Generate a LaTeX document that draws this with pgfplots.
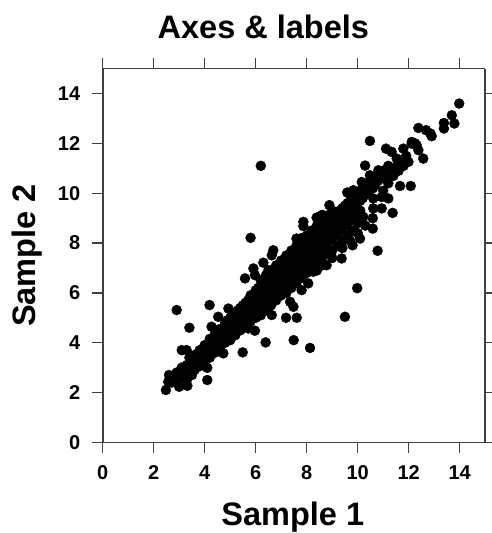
\documentclass[border=0pt]{standalone}
\usepackage{pgfplots}
\usepackage{fontspec}
\setmainfont{Liberation Sans}
\pgfplotsset{compat=1.18}

\begin{document}
\begin{tikzpicture}[x=1pt,y=1pt]
\useasboundingbox (0,0) rectangle (491,533);
\begin{axis}[
	at={(102.7pt,90.7pt)}, anchor=south west,
	scale only axis, width=382.5pt, height=373.6pt,
	xmin=0, xmax=15, ymin=0, ymax=15,
	xtick={0,2,...,14}, ytick={0,2,...,14},
	tick align=outside, major tick length=11pt,
	tick style={black!75, line width=1.3pt},
	separate axis lines,
	x axis line style={black!75, line width=1.3pt},
	y axis line style={black!75, line width=1.9pt},
	xticklabel pos=bottom, yticklabel pos=left,
	/pgf/number format/assume math mode=true,
	ticklabel style={font=\fontsize{20}{20}\selectfont\bfseries},
	xticklabel style={yshift=-9pt},
	yticklabel style={xshift=-8pt},
	title={Axes \& labels},
	every axis title/.style={at={(axis description cs:0.42,1.08)}, anchor=base, font=\fontsize{32.5}{32.5}\selectfont\bfseries},
	xlabel={Sample 1},
	every axis x label/.style={at={(axis description cs:0.497,-0.224)}, anchor=base, font=\fontsize{32.5}{32.5}\selectfont\bfseries},
	ylabel={Sample 2},
	every axis y label/.style={at={(axis description cs:-0.175,0.5)}, rotate=90, anchor=base, font=\fontsize{32.5}{32.5}\selectfont\bfseries},
]
\addplot[only marks, mark=*, mark size=5pt, mark options={fill=black, draw=none}] coordinates {
	% outliers and edges
	(2.48,2.10)(2.57,2.43)(3.00,2.23)(3.32,2.27)(4.10,2.50)(4.10,2.99)(2.90,5.31)(4.19,5.51)
	(3.40,4.60)(3.10,3.70)(3.29,3.70)(5.49,3.61)(6.39,4.01)(5.97,4.48)(5.71,4.57)(4.73,3.57)
	(4.27,4.64)(4.53,5.04)(4.93,5.37)(7.49,4.10)(8.13,3.79)(7.19,5.00)(7.61,5.00)(9.50,5.04)
	(9.98,6.19)(6.63,5.11)(7.48,5.44)(7.35,5.64)(7.80,6.11)(8.06,6.38)(8.26,6.85)
	(5.80,8.21)(7.87,8.85)(7.87,8.68)(8.42,9.02)(8.59,9.12)(6.69,7.71)(6.63,7.51)(6.30,7.21)
	(5.91,6.98)(5.97,6.71)(5.58,6.58)(6.50,6.91)(7.60,8.18)(8.78,7.11)(9.37,7.38)
	(6.20,11.10)(10.48,12.10)(10.29,11.11)(12.08,10.29)(11.66,10.29)(11.37,9.21)(10.78,7.69)
	(10.59,8.58)(10.59,9.00)(10.94,9.39)(10.61,9.39)(11.20,9.79)(9.59,10.03)(8.89,9.52)
	(8.39,9.02)(8.63,9.12)(11.11,11.79)(11.33,11.66)(11.79,11.79)(12.12,11.99)(12.31,11.93)
	(11.99,11.26)(11.60,11.19)(10.09,8.18)(9.80,7.91)(9.83,10.12)(10.16,10.45)(10.48,10.72)
	(10.81,10.92)(10.22,9.05)(9.83,8.98)(10.09,8.85)(10.68,10.32)(10.94,9.85)(10.61,9.79)
	(12.12,12.06)(12.25,12.00)(12.38,11.73)(12.57,11.39)(11.92,11.26)(11.53,11.39)
	(12.38,12.62)(12.68,12.53)(12.90,12.29)(12.85,12.40)(13.38,12.82)(13.38,12.60)
	(13.79,12.80)(13.69,13.13)(13.98,13.60)
	% main band
	(2.7,2.4)(2.7,2.6)(2.9,2.5)(2.9,2.8)(3.1,2.6)(3.1,3.0)(3.3,2.7)(3.3,3.1)(3.4,3.4)
	(3.6,2.9)(3.6,3.2)(3.6,3.5)(3.8,3.05)(3.8,3.38)(3.8,3.7)(4.0,3.25)(4.0,3.58)(4.0,3.9)
	(4.2,3.4)(4.2,3.8)(4.2,4.15)(4.4,3.6)(4.4,4.0)(4.4,4.35)(4.6,3.8)(4.6,4.2)(4.6,4.55)
	(4.8,4.0)(4.8,4.4)(4.8,4.8)(5.0,4.1)(5.0,4.6)(5.0,5.0)(5.2,4.3)(5.2,4.8)(5.2,5.2)
	(5.4,4.5)(5.4,5.0)(5.4,5.4)(5.6,4.7)(5.6,5.2)(5.6,5.6)(5.8,4.85)(5.8,5.4)(5.8,5.9)
	(6.0,5.0)(6.0,5.6)(6.0,6.1)(6.2,5.1)(6.2,5.5)(6.2,5.8)(6.2,6.2)(6.2,6.5)
	(6.4,5.3)(6.4,5.7)(6.4,6.0)(6.4,6.4)(6.4,6.7)(6.6,5.5)(6.6,5.9)(6.6,6.2)(6.6,6.6)(6.6,6.9)
	(6.8,5.7)(6.8,6.1)(6.8,6.4)(6.8,6.8)(6.8,7.1)(7.0,5.9)(7.0,6.2)(7.0,6.6)(7.0,7.0)(7.0,7.3)
	(7.2,6.0)(7.2,6.4)(7.2,6.8)(7.2,7.2)(7.2,7.5)(7.4,6.2)(7.4,6.6)(7.4,7.0)(7.4,7.4)(7.4,7.7)
	(7.6,6.4)(7.6,6.8)(7.6,7.2)(7.6,7.6)(7.6,7.9)(7.8,6.6)(7.8,7.0)(7.8,7.4)(7.8,7.8)(7.8,8.2)
	(8.0,6.8)(8.0,7.2)(8.0,7.6)(8.0,8.0)(8.0,8.3)(8.2,7.0)(8.2,7.4)(8.2,7.8)(8.2,8.2)(8.2,8.5)
	(8.4,7.2)(8.4,7.6)(8.4,8.0)(8.4,8.4)(8.4,8.7)(8.6,7.4)(8.6,7.8)(8.6,8.2)(8.6,8.6)(8.6,8.9)
	(8.8,7.6)(8.8,8.0)(8.8,8.4)(8.8,8.8)(8.8,9.1)(9.0,7.7)(9.0,8.2)(9.0,8.6)(9.0,9.0)(9.0,9.3)
	(9.2,7.9)(9.2,8.4)(9.2,8.8)(9.2,9.2)(9.4,8.1)(9.4,8.6)(9.4,9.0)(9.4,9.4)
	(9.6,8.3)(9.6,8.8)(9.6,9.2)(9.6,9.6)(9.8,8.5)(9.8,9.0)(9.8,9.4)(9.8,9.8)
	(10.0,8.8)(10.0,9.2)(10.0,9.6)(10.0,10.0)(10.2,9.8)(10.2,10.2)
	(10.4,10.0)(10.4,10.4)(10.6,10.2)(10.6,10.5)(10.8,10.5)(10.8,10.7)
	(11.0,10.1)(11.0,10.6)(11.0,10.9)(11.2,10.4)(11.2,10.8)(11.2,11.1)(11.4,10.7)(11.4,11.0)
	(11.6,10.9)(11.8,11.1)(11.9,11.5)
	% denser fill between the columns
	(2.8,2.5)(3.0,2.7)(3.2,2.85)(3.4,3.0)(3.3,2.5)(3.5,2.7)(2.6,2.7)
	(3.5,3.0)(3.5,3.4)(3.7,3.2)(3.7,3.5)(3.9,3.4)(3.9,3.7)(4.1,3.5)(4.1,3.9)
	(4.3,3.7)(4.3,4.1)(4.5,3.9)(4.5,4.3)(4.7,4.1)(4.7,4.5)(4.9,4.2)(4.9,4.6)(4.9,4.9)
	(5.1,4.4)(5.1,4.8)(5.1,5.1)(5.3,4.6)(5.3,5.0)(5.3,5.3)(5.5,4.8)(5.5,5.2)(5.5,5.5)
	(5.7,5.0)(5.7,5.4)(5.7,5.7)(5.9,5.2)(5.9,5.6)(5.9,5.9)(6.1,5.4)(6.1,5.8)(6.1,6.2)
	(6.3,5.6)(6.3,6.0)(6.3,6.4)(6.5,5.8)(6.5,6.2)(6.5,6.6)(6.7,6.0)(6.7,6.4)(6.7,6.8)
	(6.9,6.2)(6.9,6.6)(6.9,7.0)(7.1,6.4)(7.1,6.8)(7.1,7.2)(7.3,6.6)(7.3,7.0)(7.3,7.4)
	(7.5,6.7)(7.5,7.1)(7.5,7.5)(7.7,6.9)(7.7,7.3)(7.7,7.7)(7.9,7.1)(7.9,7.5)(7.9,7.9)
	(8.1,7.3)(8.1,7.7)(8.1,8.1)(8.3,7.5)(8.3,7.9)(8.3,8.3)(8.5,7.7)(8.5,8.1)(8.5,8.5)
	(8.7,7.9)(8.7,8.3)(8.7,8.7)(8.9,8.1)(8.9,8.5)(8.9,8.9)(9.1,8.3)(9.1,8.7)(9.1,9.1)
	(9.3,8.5)(9.3,8.9)(9.3,9.3)(9.5,8.7)(9.5,9.1)(9.5,9.5)(9.7,8.9)(9.7,9.3)(9.7,9.7)
	(9.9,9.1)(9.9,9.5)(9.9,9.9)(10.1,9.3)(10.1,9.7)(10.1,10.1)(10.3,10.1)(10.5,10.3)
	% lower side of the band
	(8.4,6.9)(8.6,7.1)(9.0,7.4)(9.4,7.8)(9.7,8.1)(10.0,8.4)(10.3,8.7)
};
\end{axis}
\end{tikzpicture}
\end{document}
